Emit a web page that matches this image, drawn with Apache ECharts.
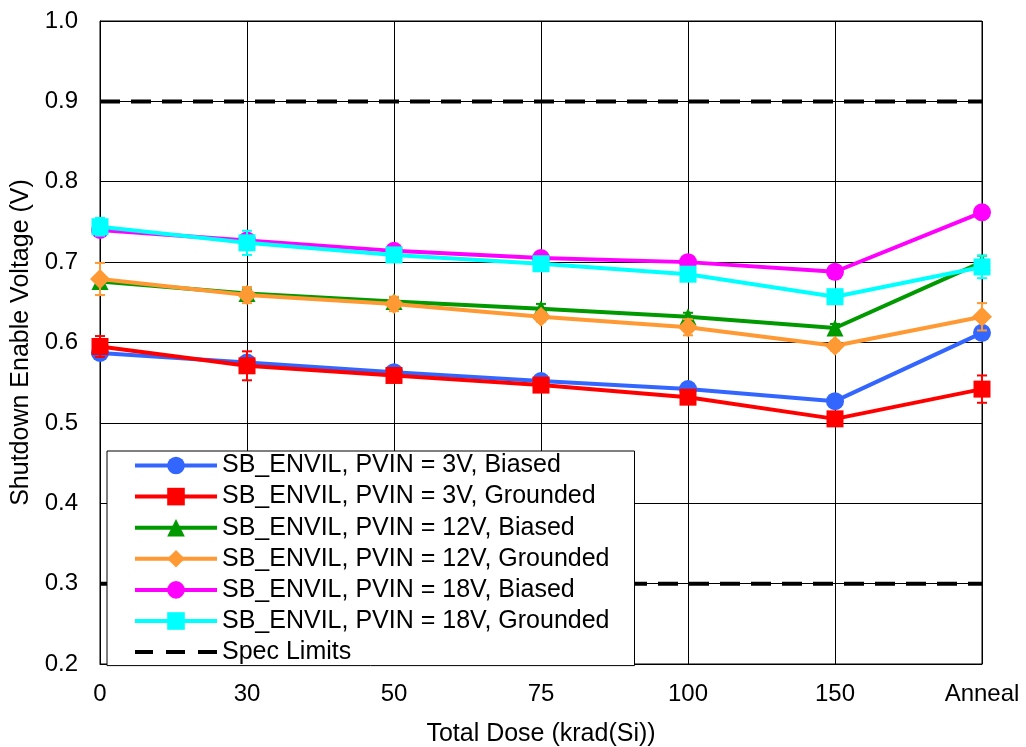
<!DOCTYPE html>
<html>
<head>
<meta charset="utf-8">
<script src="https://cdn.jsdelivr.net/npm/echarts@6/dist/echarts.min.js"></script>
<style>html,body{margin:0;padding:0;background:#fff;}#c{width:1026px;height:747px;}</style>
</head>
<body>
<div id="c"></div>
<script>
const categories = ['0', '30', '50', '75', '100', '150', 'Anneal'];
const names = [
  'SB_ENVIL, PVIN = 3V, Biased',
  'SB_ENVIL, PVIN = 3V, Grounded',
  'SB_ENVIL, PVIN = 12V, Biased',
  'SB_ENVIL, PVIN = 12V, Grounded',
  'SB_ENVIL, PVIN = 18V, Biased',
  'SB_ENVIL, PVIN = 18V, Grounded'
];
const v3Biased    = [0.587, 0.575, 0.563, 0.552, 0.542, 0.527, 0.612];
const v3Grounded  = [0.595, 0.571, 0.559, 0.547, 0.532, 0.505, 0.542];
const v12Biased   = [0.676, 0.661, 0.651, 0.642, 0.632, 0.618, 0.700];
const v12Grounded = [0.679, 0.659, 0.648, 0.632, 0.619, 0.596, 0.632];
const v18Biased   = [0.740, 0.727, 0.714, 0.705, 0.700, 0.688, 0.762];
const v18Grounded = [0.744, 0.724, 0.709, 0.698, 0.685, 0.657, 0.694];
// error bar half-widths (estimated)
const e3Biased    = [0.005, 0.005, 0.004, 0.004, 0.004, 0.004, 0.005];
const e3Grounded  = [0.013, 0.018, 0.005, 0.005, 0.005, 0.005, 0.017];
const e12Biased   = [0.006, 0.005, 0.005, 0.006, 0.005, 0.005, 0.008];
const e12Grounded = [0.020, 0.010, 0.009, 0.006, 0.010, 0.006, 0.017];
const e18Biased   = [0.005, 0.006, 0.005, 0.005, 0.005, 0.005, 0.005];
const e18Grounded = [0.011, 0.015, 0.005, 0.005, 0.005, 0.005, 0.014];
const specUpper = [0.9, 0.9, 0.9, 0.9, 0.9, 0.9, 0.9];
const specLower = [0.3, 0.3, 0.3, 0.3, 0.3, 0.3, 0.3];
const yTicks = [0.2, 0.3, 0.4, 0.5, 0.6, 0.7, 0.8, 0.9, 1.0];

const values = [v3Biased, v3Grounded, v12Biased, v12Grounded, v18Biased, v18Grounded];
const errors = [e3Biased, e3Grounded, e12Biased, e12Grounded, e18Biased, e18Grounded];
const colors = ['#3366ff', '#ff0000', '#009900', '#ff9933', '#ff00ff', '#00ffff'];
const symbols = ['circle', 'rect', 'triangle', 'diamond', 'circle', 'rect'];
const symSizes = [18, 17, 17, 20, 18, 17];

const FONT = '"Liberation Sans", Arial, sans-serif';
const series = [];
const dash = [20, 11];
series.push({ name: 'Spec Limits', type: 'line', data: specUpper, symbol: 'none', z: 1,
  lineStyle: { color: '#000', width: 4, type: dash }, itemStyle: { color: '#000' }, silent: true });
series.push({ name: 'Spec Limits', type: 'line', data: specLower, symbol: 'none', z: 1,
  lineStyle: { color: '#000', width: 4, type: dash }, itemStyle: { color: '#000' }, silent: true });

values.forEach((vals, i) => {
  series.push({
    name: names[i] + ' err', type: 'custom', z: 2 + i * 2,
    data: vals.map((v, k) => [k, v, errors[i][k]]),
    renderItem: function (params, api) {
      const x = api.value(0), y = api.value(1), e = api.value(2);
      const hi = api.coord([x, y + e]);
      const lo = api.coord([x, y - e]);
      const w = 5;
      const st = { stroke: colors[i], lineWidth: 2 };
      return { type: 'group', children: [
        { type: 'line', shape: { x1: hi[0], y1: hi[1], x2: lo[0], y2: lo[1] }, style: st },
        { type: 'line', shape: { x1: hi[0] - w, y1: hi[1], x2: hi[0] + w, y2: hi[1] }, style: st },
        { type: 'line', shape: { x1: lo[0] - w, y1: lo[1], x2: lo[0] + w, y2: lo[1] }, style: st }
      ]};
    },
    silent: true
  });
  series.push({
    name: names[i], type: 'line', data: vals, z: 3 + i * 2,
    symbol: symbols[i], symbolSize: symSizes[i], showAllSymbol: true,
    lineStyle: { color: colors[i], width: 4 },
    itemStyle: { color: colors[i] }
  });
});

const legendData = names.map(n => ({ name: n })).concat([{
  name: 'Spec Limits',
  icon: 'path://M0,0h18v4h-18z M31,0h19v4h-19z M63,0h19v4h-19z'
}]);

const chart = echarts.init(document.getElementById('c'), null, { renderer: 'canvas' });
chart.setOption({
  animation: false,
  backgroundColor: '#fff',
  grid: { left: 100, right: 44, top: 21, bottom: 83, show: true, borderColor: '#000', borderWidth: 1,
          containLabel: false, outerBoundsMode: 'none' },
  xAxis: {
    type: 'category', data: categories, boundaryGap: false,
    name: 'Total Dose (krad(Si))', nameLocation: 'middle', nameGap: 58,
    nameTextStyle: { color: '#000', fontSize: 25, fontFamily: FONT },
    axisLine: { lineStyle: { color: '#000', width: 1 } },
    axisTick: { show: false },
    axisLabel: { color: '#000', fontSize: 24, fontFamily: FONT, margin: 18 },
    splitLine: { show: true, lineStyle: { color: '#000', width: 1 } }
  },
  yAxis: {
    type: 'value', min: 0.2, max: 1.0, interval: 0.1,
    name: 'Shutdown Enable Voltage (V)', nameLocation: 'middle', nameGap: 66,
    nameTextStyle: { color: '#000', fontSize: 25, fontFamily: FONT },
    axisLine: { show: true, lineStyle: { color: '#000', width: 1 } },
    axisTick: { show: false },
    axisLabel: { color: '#000', fontSize: 24, fontFamily: FONT, margin: 22,
      formatter: v => { const t = yTicks.find(k => Math.abs(k - v) < 1e-6); return (t !== undefined ? t : v).toFixed(1); } },
    splitLine: { show: true, lineStyle: { color: '#000', width: 1 } }
  },
  legend: {
    data: legendData,
    orient: 'vertical', left: 107, top: 451,
    backgroundColor: '#fff', borderColor: '#000', borderWidth: 1,
    padding: [2, 25, 1, 26],
    itemWidth: 82, itemHeight: 22, itemGap: 6.1,
    lineStyle: { width: 4 },
    textStyle: { color: '#000', fontSize: 25, lineHeight: 25, fontFamily: FONT }
  },
  series: series
});
</script>
</body>
</html>
